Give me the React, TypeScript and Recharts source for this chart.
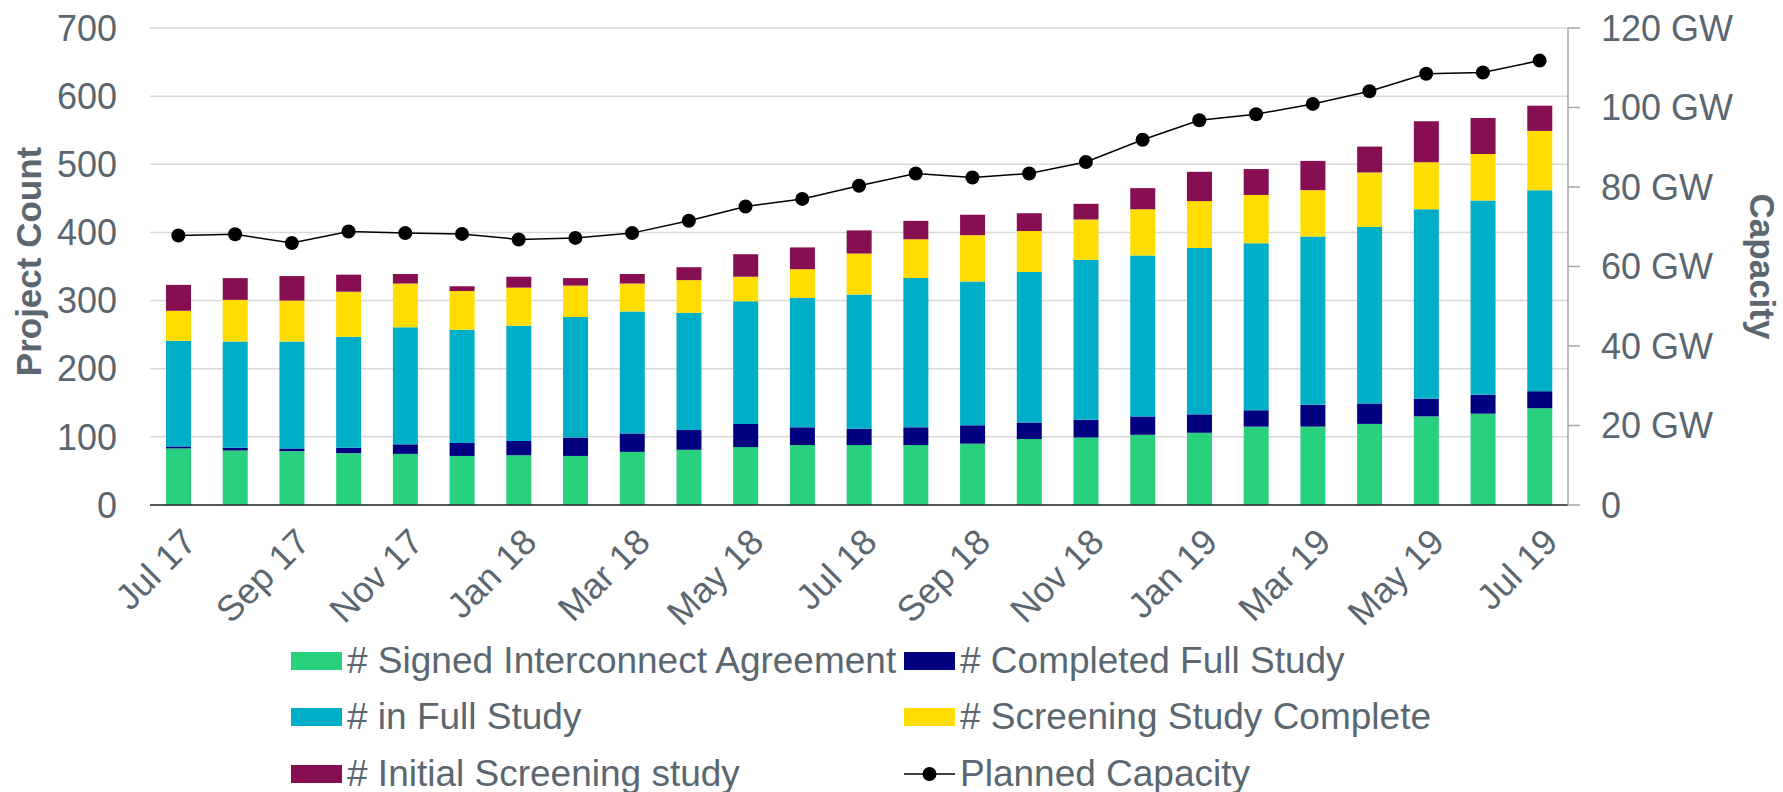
import React from "react";
import {
  ComposedChart,
  Bar,
  Line,
  XAxis,
  YAxis,
  CartesianGrid,
  Legend,
} from "recharts";

const months = [
  "Jul 17", "Aug 17", "Sep 17", "Oct 17", "Nov 17", "Dec 17",
  "Jan 18", "Feb 18", "Mar 18", "Apr 18", "May 18", "Jun 18",
  "Jul 18", "Aug 18", "Sep 18", "Oct 18", "Nov 18", "Dec 18",
  "Jan 19", "Feb 19", "Mar 19", "Apr 19", "May 19", "Jun 19", "Jul 19",
];

const signed = [83, 80, 79, 76, 75, 72, 73, 72, 78, 81, 85, 88, 88, 88, 90, 97, 99, 103, 106, 115, 115, 119, 130, 134, 142];
const completed = [3, 4, 4, 8, 14, 19, 21, 27, 27, 29, 34, 26, 24, 26, 27, 24, 26, 27, 27, 24, 32, 30, 26, 28, 25];
const inFull = [155, 156, 157, 163, 172, 166, 169, 177, 179, 172, 180, 190, 197, 219, 211, 221, 235, 236, 244, 245, 247, 259, 278, 285, 295];
const screening = [44, 61, 60, 66, 64, 57, 56, 46, 41, 48, 36, 42, 60, 57, 68, 60, 59, 68, 69, 71, 68, 80, 69, 68, 87];
const initial = [38, 32, 36, 25, 14, 7, 16, 11, 14, 19, 33, 32, 34, 27, 30, 26, 23, 31, 43, 38, 43, 38, 60, 53, 37];
const capacity = [67.8, 68.1, 65.9, 68.8, 68.4, 68.2, 66.8, 67.2, 68.4, 71.5, 75.1, 77.0, 80.3, 83.4, 82.4, 83.4, 86.3, 91.9, 96.8, 98.3, 100.9, 104.1, 108.5, 108.8, 111.8];

const countTicks = [0, 100, 200, 300, 400, 500, 600, 700];
const gwTicks = [0, 20, 40, 60, 80, 100, 120];

const data = months.map((month, i) => ({
  month,
  signed: signed[i],
  completed: completed[i],
  inFull: inFull[i],
  screening: screening[i],
  initial: initial[i],
  capacity: capacity[i],
}));

const series = [
  { key: "signed", name: "# Signed Interconnect Agreement", color: "#29d07e" },
  { key: "completed", name: "# Completed Full Study", color: "#000080" },
  { key: "inFull", name: "# in Full Study", color: "#00aec8" },
  { key: "screening", name: "# Screening Study Complete", color: "#ffdd00" },
  { key: "initial", name: "# Initial Screening study", color: "#880e52" },
];

const legendOrder = ["signed", "completed", "inFull", "screening", "initial", "capacity"];

const textColor = "#5b6770";
const font = "'Liberation Sans', Arial, Helvetica, sans-serif";

// rotated month labels, end of text sits just under the bar
const MonthTick = (props: any) => {
  const { x, y, payload } = props;
  const ax = x + 20;
  const ay = y + 39;
  return (
    <text
      x={ax}
      y={ay}
      transform={`rotate(-45, ${ax}, ${ay})`}
      textAnchor="end"
      fill={textColor}
      fontSize={36}
      fontFamily={font}
    >
      {payload.value}
    </text>
  );
};

const LegendBox = (props: any) => {
  const payload = props.payload || [];
  const items = legendOrder
    .map((k) => payload.find((p: any) => p.dataKey === k))
    .filter(Boolean);
  return (
    <div style={{ position: "relative", width: 1783, height: 162 }}>
      {items.map((item: any, i: number) => {
        const col = i % 2;
        const row = Math.floor(i / 2);
        const left = col === 0 ? 291 : 904;
        const center = 31 + row * 56.3;
        return (
          <div
            key={item.dataKey}
            style={{
              position: "absolute",
              left,
              top: center - 20,
              height: 40,
              display: "flex",
              alignItems: "center",
              whiteSpace: "nowrap",
            }}
          >
            {item.dataKey === "capacity" ? (
              <svg width={51} height={18}>
                <line x1={0} y1={9} x2={51} y2={9} stroke="#000" strokeWidth={1.5} />
                <circle cx={25.5} cy={9} r={7} fill="#000" />
              </svg>
            ) : (
              <span
                style={{
                  display: "inline-block",
                  width: 51,
                  height: 18,
                  background: item.color,
                }}
              />
            )}
            <span
              style={{
                marginLeft: 5,
                fontSize: 37,
                lineHeight: "40px",
                color: textColor,
                fontFamily: font,
              }}
            >
              {item.value}
            </span>
          </div>
        );
      })}
    </div>
  );
};

export default function App() {
  return (
    <div style={{ width: 1783, height: 792, background: "#fff" }}>
      <style>{`body{margin:0}`}</style>
      <ComposedChart
        width={1783}
        height={792}
        data={data}
        margin={{ top: 28, right: 0, bottom: 0, left: 0 }}
        style={{ fontFamily: font }}
      >
        <CartesianGrid
          yAxisId="left"
          vertical={false}
          stroke="#d9d9d9"
          strokeWidth={1.5}
        />
        <XAxis
          dataKey="month"
          interval={1}
          height={287}
          tickLine={false}
          tickSize={0}
          tickMargin={0}
          axisLine={{ stroke: "#262626", strokeWidth: 1.5 }}
          tick={<MonthTick />}
        />
        <YAxis
          yAxisId="left"
          width={150}
          domain={[0, 700]}
          ticks={countTicks}
          axisLine={false}
          tickLine={false}
          tickSize={6}
          tickMargin={27}
          tick={{ fill: textColor, fontSize: 36, fontFamily: font }}
          label={{
            content: (p: any) => {
              const vb = p.viewBox || { y: 28, height: 477 };
              const cy = vb.y + vb.height / 2 - 5;
              return (
                <text
                  x={41}
                  y={cy}
                  transform={`rotate(-90, 41, ${cy})`}
                  textAnchor="middle"
                  fill={textColor}
                  fontSize={35}
                  fontWeight="bold"
                  fontFamily={font}
                >
                  Project Count
                </text>
              );
            },
          }}
        />
        <YAxis
          yAxisId="right"
          orientation="right"
          width={215}
          domain={[0, 120]}
          ticks={gwTicks}
          axisLine={{ stroke: "#a6a6a6", strokeWidth: 1.5 }}
          tickLine={{ stroke: "#a6a6a6", strokeWidth: 1.5 }}
          tickSize={12}
          tickMargin={21}
          tickFormatter={(v: number) => (v === 0 ? "0" : `${v} GW`)}
          tick={{ fill: textColor, fontSize: 36, fontFamily: font, textAnchor: "start" }}
          label={{
            content: (p: any) => {
              const vb = p.viewBox || { x: 1568, y: 28, height: 477 };
              const cx = vb.x + 182;
              const cy = vb.y + vb.height / 2;
              return (
                <text
                  x={cx}
                  y={cy}
                  transform={`rotate(90, ${cx}, ${cy})`}
                  textAnchor="middle"
                  fill={textColor}
                  fontSize={35}
                  fontWeight="bold"
                  fontFamily={font}
                >
                  Capacity
                </text>
              );
            },
          }}
        />
        <Legend
          layout="horizontal"
          verticalAlign="middle"
          align="center"
          wrapperStyle={{ top: 630, left: 0, width: 1783, height: 162 }}
          content={<LegendBox />}
        />
        {series.map((s) => (
          <Bar
            key={s.key}
            yAxisId="left"
            dataKey={s.key}
            name={s.name}
            stackId="a"
            fill={s.color}
            barSize={25}
            isAnimationActive={false}
          />
        ))}
        <Line
          yAxisId="right"
          dataKey="capacity"
          name="Planned Capacity"
          type="linear"
          stroke="#000"
          strokeWidth={1.5}
          dot={{ r: 7, fill: "#000", stroke: "#000", strokeWidth: 0 }}
          isAnimationActive={false}
        />
      </ComposedChart>
    </div>
  );
}
